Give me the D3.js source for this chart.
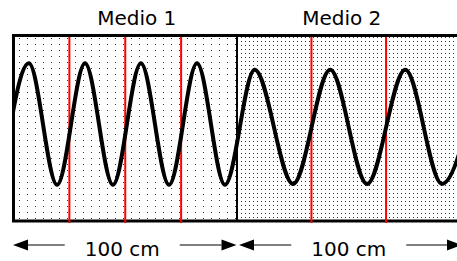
<!DOCTYPE html>
<html>
<head>
<meta charset="utf-8">
<script src="https://cdn.jsdelivr.net/npm/d3@7"></script>
<style>
  body { margin: 0; background: #fff; }
  svg { display: block; }
  text { font-family: "DejaVu Sans", Verdana, sans-serif; }
</style>
</head>
<body>
<svg></svg>
<script>
// two media, each 100 cm long
let medios = ["Medio 1", "Medio 2"]
let limites = [0, 100, 200]
let etiquetas = ["100 cm", "100 cm"]

// wavefronts (red lines), cm
let frentes = [25, 50, 75, 133.3, 166.7]

// crests and troughs of the wave (cm, displacement)
let ondaX = [-5.5, 6.9, 19.5, 32, 44.5, 57, 69.6, 82.1, 94.6, 107.9, 125.1, 141.7, 158.2, 175.3, 191.7, 208.5]
let ondaY = [-0.61, 0.70, -0.61, 0.70, -0.61, 0.70, -0.61, 0.70, -0.61, 0.63, -0.60, 0.63, -0.60, 0.63, -0.60, 0.63]

let width = 457
let height = 261
let boxTop = 35.5
let boxBottom = 221

let svg = d3.select("svg")
let xScale
let yScale

let drawCanvas = () => {
    svg.attr("width", width)
    svg.attr("height", height)
}

let generateScales = () => {
    xScale = d3.scaleLinear()
                .domain([limites[0], limites[2]])
                .range([13.5, 460.5])
    yScale = d3.scaleLinear()
                .domain([-1, 1])
                .range([boxBottom, boxTop])
}

let drawPatterns = () => {
    let defs = svg.append("defs")
    let p1 = defs.append("pattern")
        .attr("id", "dots1")
        .attr("patternUnits", "userSpaceOnUse")
        .attr("width", 8).attr("height", 6)
    p1.append("rect").attr("width", 8).attr("height", 6).attr("fill", "#fff")
    p1.append("rect").attr("x", 3).attr("y", 2).attr("width", 1).attr("height", 1).attr("fill", "#333")

    let p2 = defs.append("pattern")
        .attr("id", "dots2")
        .attr("patternUnits", "userSpaceOnUse")
        .attr("width", 4).attr("height", 4)
    p2.append("rect").attr("width", 4).attr("height", 4).attr("fill", "#fff")
    p2.append("rect").attr("x", 1).attr("y", 1).attr("width", 1).attr("height", 1).attr("fill", "#333")

    defs.append("clipPath").attr("id", "caja")
        .append("rect")
        .attr("x", xScale(limites[0]) + 1.5)
        .attr("y", boxTop + 1.5)
        .attr("width", xScale(limites[2]) - xScale(limites[0]))
        .attr("height", boxBottom - boxTop - 3)
}

let drawBox = () => {
    svg.selectAll(".fondo")
        .data(medios)
        .enter()
        .append("rect")
        .attr("class", "fondo")
        .attr("x", (d, i) => xScale(limites[i]))
        .attr("y", boxTop)
        .attr("width", (d, i) => xScale(limites[i + 1]) - xScale(limites[i]))
        .attr("height", boxBottom - boxTop)
        .attr("fill", (d, i) => "url(#dots" + (i + 1) + ")")

    svg.append("line")
        .attr("x1", xScale(limites[1])).attr("x2", xScale(limites[1]))
        .attr("y1", boxTop).attr("y2", boxBottom)
        .attr("stroke", "#000").attr("stroke-width", 2)

    svg.append("rect")
        .attr("x", xScale(limites[0]))
        .attr("y", boxTop)
        .attr("width", xScale(limites[2]) - xScale(limites[0]) + 10)
        .attr("height", boxBottom - boxTop)
        .attr("fill", "none")
        .attr("stroke", "#000")
        .attr("stroke-width", 3)
}

let drawFronts = () => {
    svg.selectAll(".frente")
        .data(frentes)
        .enter()
        .append("line")
        .attr("class", "frente")
        .attr("x1", (d) => xScale(d)).attr("x2", (d) => xScale(d))
        .attr("y1", boxTop + 1.5).attr("y2", boxBottom + 2)
        .attr("stroke", "#ff0000")
        .attr("stroke-width", 2)
}

let drawWave = () => {
    let puntos = ondaX.map((x, i) => [x, ondaY[i]])
    let linea = d3.line()
        .x((d) => xScale(d[0]))
        .y((d) => yScale(d[1]))
        .curve(d3.curveMonotoneX)
    svg.append("path")
        .attr("d", linea(puntos))
        .attr("clip-path", "url(#caja)")
        .attr("fill", "none")
        .attr("stroke", "#000")
        .attr("stroke-width", 4)
}

let drawTitles = () => {
    let shift = [11.5, -7]
    svg.selectAll(".titulo")
        .data(medios)
        .enter()
        .append("text")
        .attr("class", "titulo")
        .attr("x", (d, i) => (xScale(limites[i]) + xScale(limites[i + 1])) / 2 + shift[i])
        .attr("y", 25)
        .attr("text-anchor", "middle")
        .attr("font-size", 20)
        .text((d) => d)
}

let drawArrows = () => {
    let y = 245
    let head = 15
    let shift = [-3, 0]
    etiquetas.forEach((lab, i) => {
        let a = xScale(limites[i]) + (i == 0 ? -0.5 : 2)
        let b = xScale(limites[i + 1]) - (i == 0 ? 0.5 : -1.5)
        let c = (xScale(limites[i]) + xScale(limites[i + 1])) / 2 + shift[i]
        let t = svg.append("text")
            .attr("x", c).attr("y", 256)
            .attr("text-anchor", "middle")
            .attr("font-size", 20)
            .text(lab)
        let w = t.node().getComputedTextLength()
        svg.append("line")
            .attr("x1", a + head).attr("x2", c - w / 2 - 20)
            .attr("y1", y).attr("y2", y)
            .attr("stroke", "#000").attr("stroke-width", 1)
        svg.append("line")
            .attr("x1", c + w / 2 + 20).attr("x2", b - head)
            .attr("y1", y).attr("y2", y)
            .attr("stroke", "#000").attr("stroke-width", 1)
        svg.append("path")
            .attr("d", "M" + a + "," + y + "L" + (a + head) + "," + (y - 5.5) + "L" + (a + head) + "," + (y + 5.5) + "Z")
            .attr("fill", "#000")
        svg.append("path")
            .attr("d", "M" + b + "," + y + "L" + (b - head) + "," + (y - 5.5) + "L" + (b - head) + "," + (y + 5.5) + "Z")
            .attr("fill", "#000")
    })
}

drawCanvas()
generateScales()
drawPatterns()
drawBox()
drawFronts()
drawWave()
drawTitles()
drawArrows()
</script>
</body>
</html>
